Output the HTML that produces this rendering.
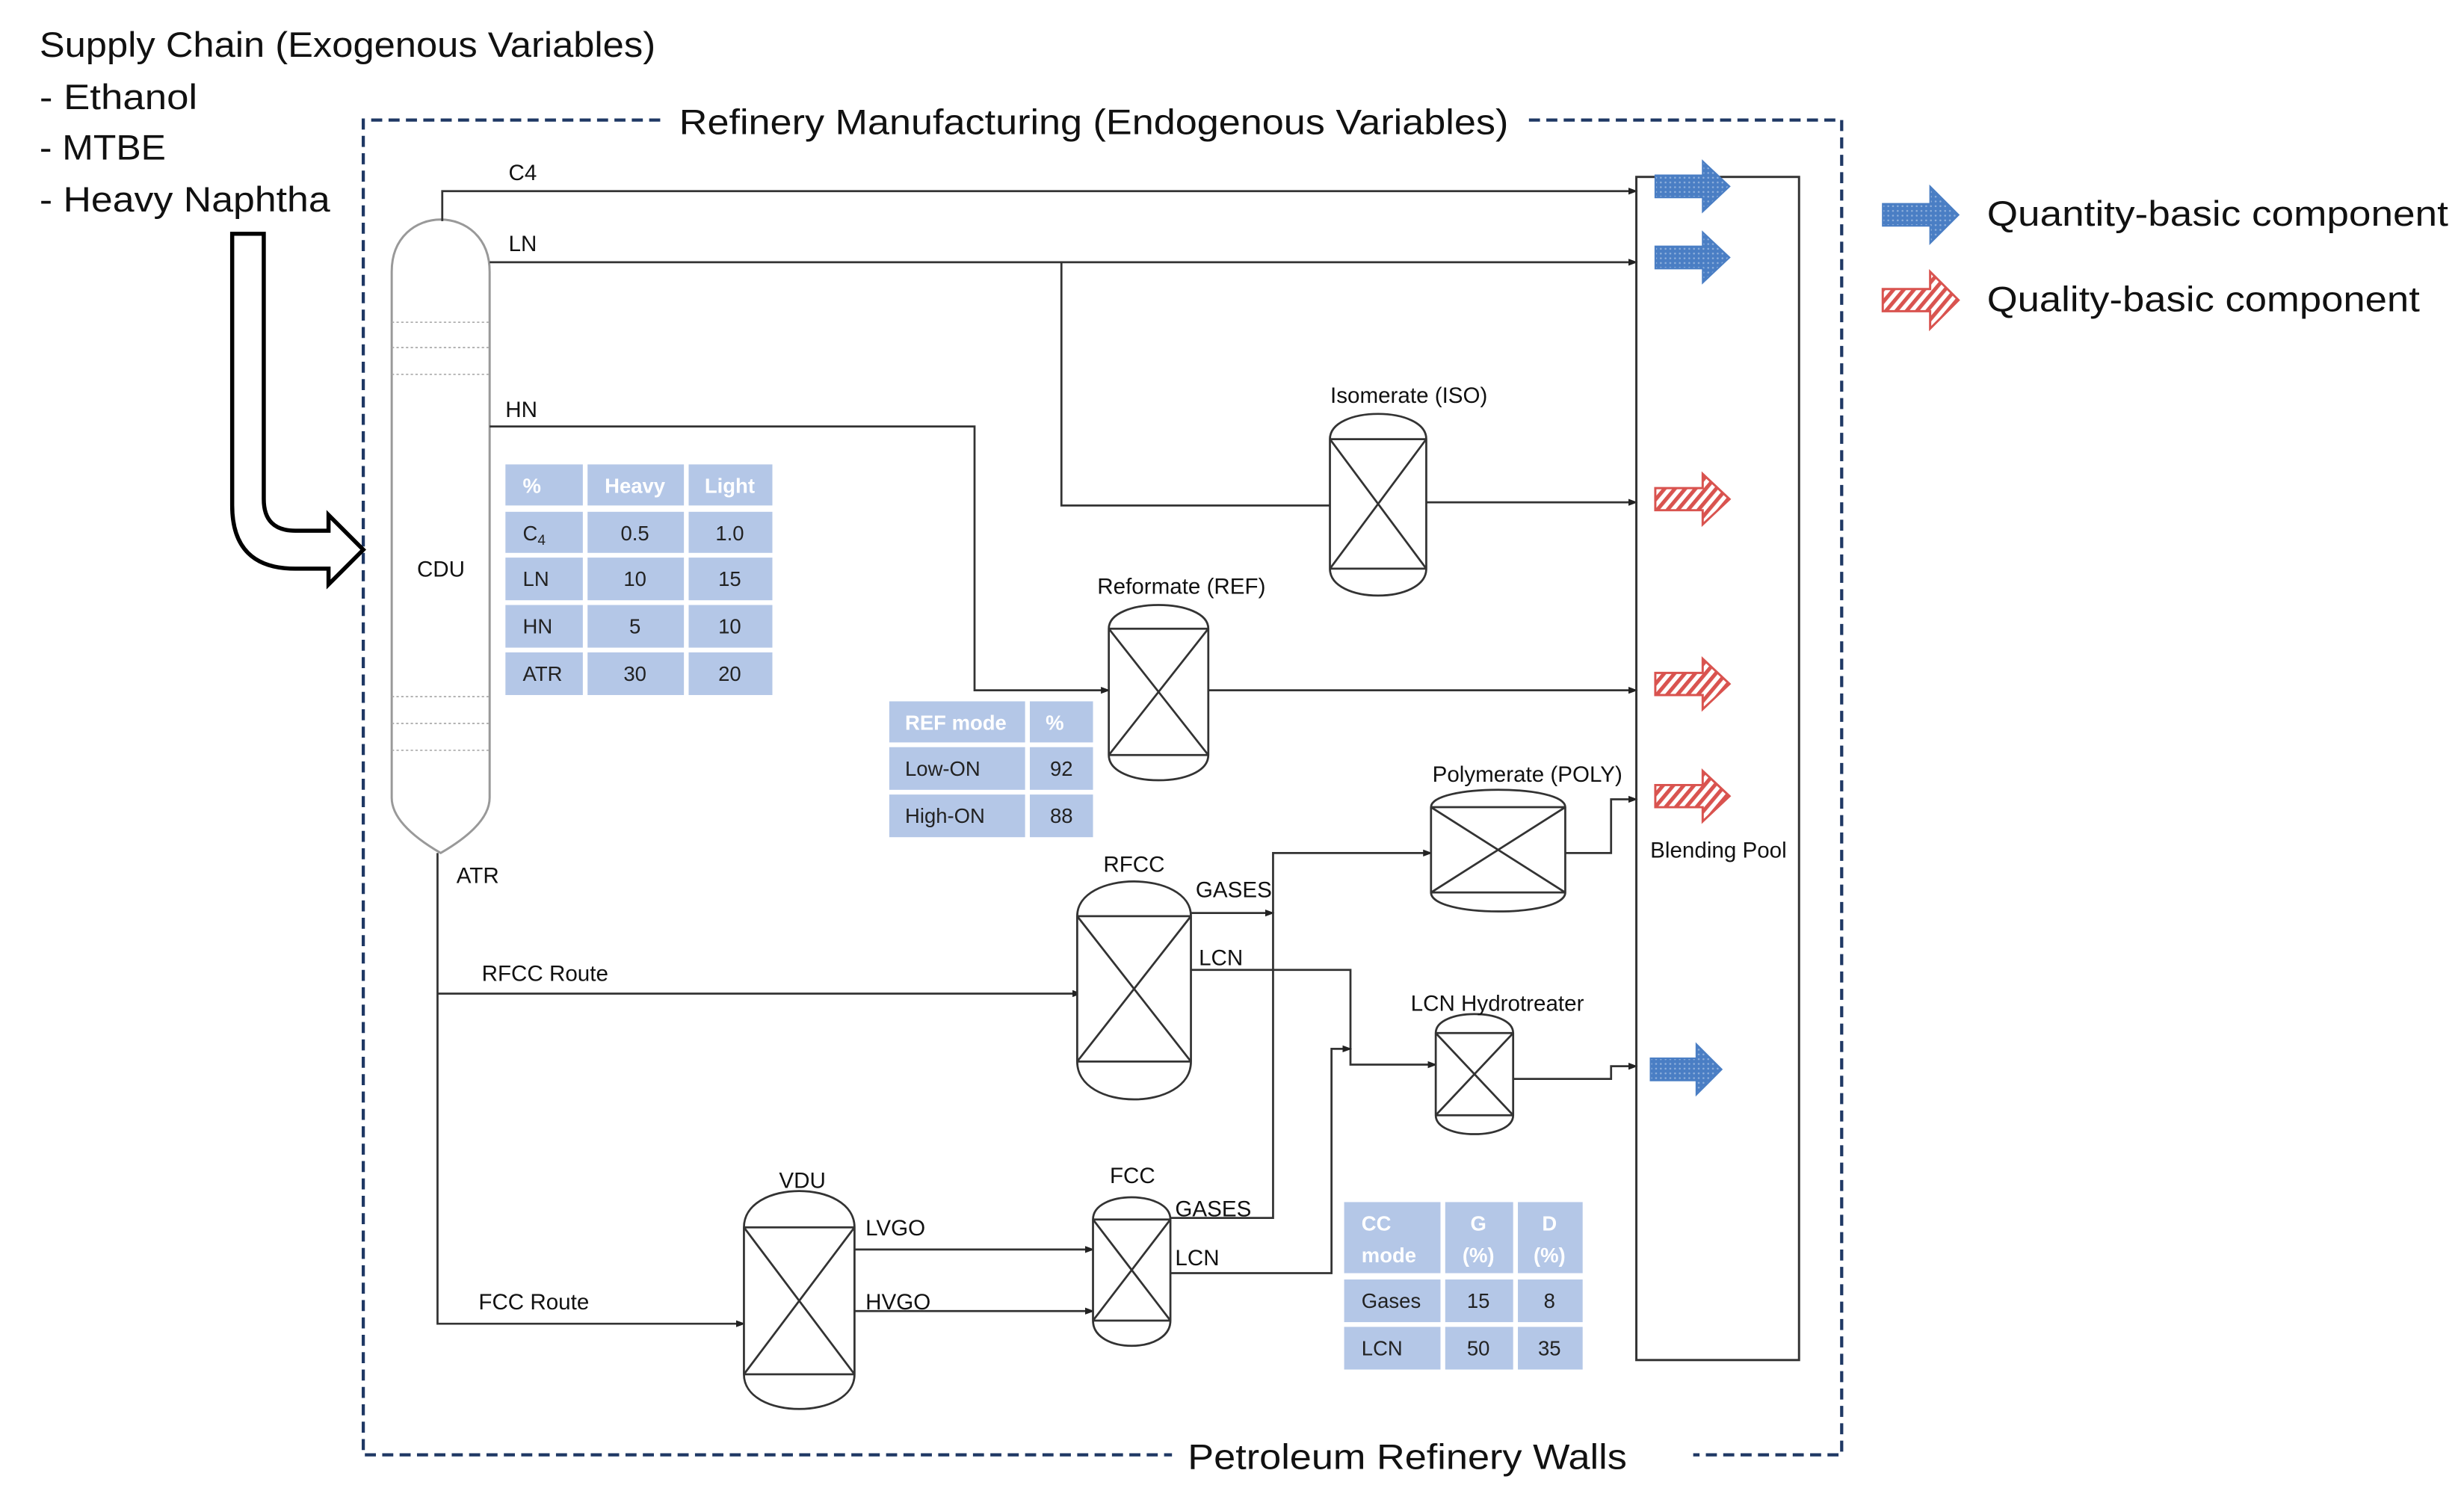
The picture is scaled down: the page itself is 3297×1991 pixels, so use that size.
<!DOCTYPE html>
<html><head><meta charset="utf-8"><style>
html,body{margin:0;padding:0;background:#fff;}
svg{display:block;}
text{font-family:"Liberation Sans",sans-serif;}
</style></head><body>
<svg width="3297" height="1991" viewBox="0 0 1560 942" preserveAspectRatio="none" xmlns="http://www.w3.org/2000/svg">
<defs>
<marker id="ah" markerWidth="6" markerHeight="6" refX="5" refY="3" orient="auto" markerUnits="userSpaceOnUse"><path d="M0,0.8 L6,3 L0,5.2 Z" fill="#222"/></marker>
<pattern id="hatch" width="5" height="5" patternUnits="userSpaceOnUse" patternTransform="rotate(40)"><rect width="5" height="5" fill="#fff"/><rect width="2.4" height="5" fill="#d9534f"/></pattern>
<pattern id="dots" width="3" height="3" patternUnits="userSpaceOnUse"><rect width="3" height="3" fill="#4a7ec4"/><circle cx="1.5" cy="1.5" r="0.6" fill="#8fb0dc"/></pattern>
</defs>
<g fill="#111">
<text x="25" y="36" font-size="22.5" textLength="390" lengthAdjust="spacingAndGlyphs">Supply Chain (Exogenous Variables)</text>
<text x="25" y="69" font-size="22.5" textLength="100" lengthAdjust="spacingAndGlyphs">- Ethanol</text>
<text x="25" y="101" font-size="22.5" textLength="80" lengthAdjust="spacingAndGlyphs">- MTBE</text>
<text x="25" y="134" font-size="22.5" textLength="184" lengthAdjust="spacingAndGlyphs">- Heavy Naphtha</text>
<text x="430" y="85" font-size="22.5" textLength="525" lengthAdjust="spacingAndGlyphs">Refinery Manufacturing (Endogenous Variables)</text>
<text x="752" y="930" font-size="22.5" textLength="278" lengthAdjust="spacingAndGlyphs">Petroleum Refinery Walls</text>
<text x="1258" y="143" font-size="22.5" textLength="292" lengthAdjust="spacingAndGlyphs">Quantity-basic component</text>
<text x="1258" y="197" font-size="22.5" textLength="274" lengthAdjust="spacingAndGlyphs">Quality-basic component</text>
</g>
<!-- dashed wall -->
<g stroke="#1f3864" stroke-width="2" stroke-dasharray="7,4" fill="none">
<path d="M418,76 L230,76 L230,921 L742,921"/>
<path d="M968,76 L1166,76 L1166,921 L1072,921"/>
</g>
<!-- big hollow arrow -->
<path d="M147,148 L167,148 L167,316 Q167,336 187,336 L208,336 L208,326 L230,348 L208,370 L208,360 L187,360 Q147,360 147,320 Z" fill="#fff" stroke="#000" stroke-width="2.6"/>
<!-- CDU -->
<path d="M248,172 C248,128 310,128 310,172 L310,505 Q310,522 279,540 Q248,522 248,505 Z" fill="#fff" stroke="#999" stroke-width="1.4"/>
<g stroke="#aaa" stroke-width="0.8" stroke-dasharray="1.5,1.5">
<line x1="248" y1="204" x2="310" y2="204"/><line x1="248" y1="220" x2="310" y2="220"/><line x1="248" y1="237" x2="310" y2="237"/>
<line x1="248" y1="441" x2="310" y2="441"/><line x1="248" y1="458" x2="310" y2="458"/><line x1="248" y1="475" x2="310" y2="475"/>
</g>
<!-- lines -->
<g stroke="#333" stroke-width="1.3" fill="none">
<path d="M280,140 L280,121 L1036,121" marker-end="url(#ah)"/>
<path d="M310,166 L1036,166" marker-end="url(#ah)"/>
<path d="M672,166 L672,320 L872,320 M903,318 L1036,318" />
<path d="M1030,318 L1036,318" marker-end="url(#ah)"/>
<path d="M310,270 L617,270 L617,437 L702,437" marker-end="url(#ah)"/>
<path d="M765,437 L1036,437" marker-end="url(#ah)"/>
<path d="M277,540 L277,838 L471,838" marker-end="url(#ah)"/>
<path d="M277,629 L684,629" marker-end="url(#ah)"/>
<path d="M754,578 L806,578" marker-end="url(#ah)"/>
<path d="M741,771 L806,771 L806,540 L906,540" marker-end="url(#ah)"/>
<path d="M754,614 L855,614 L855,674 L909,674" marker-end="url(#ah)"/>
<path d="M741,806 L843,806 L843,664 L855,664" marker-end="url(#ah)"/>
<path d="M991,540 L1020,540 L1020,506 L1036,506" marker-end="url(#ah)"/>
<path d="M958,683 L1020,683 L1020,675 L1036,675" marker-end="url(#ah)"/>
<path d="M541,791 L692,791" marker-end="url(#ah)"/>
<path d="M541,830 L692,830" marker-end="url(#ah)"/>
</g>
<!-- blending pool -->
<rect x="1036" y="112" width="103" height="749" fill="none" stroke="#333" stroke-width="1.4"/>
<!-- vessels -->
<g stroke="#333" stroke-width="1.3" fill="#fff">
<path d="M842,278 C842,256.7 903,256.7 903,278 L903,360 C903,382.7 842,382.7 842,360 Z"/>
<path d="M842,278 H903 M842,360 H903 M842,278 L903,360 M903,278 L842,360" fill="none"/>
<path d="M702,398 C702,378 765,378 765,398 L765,478 C765,499.3 702,499.3 702,478 Z"/>
<path d="M702,398 H765 M702,478 H765 M702,398 L765,478 M765,398 L702,478" fill="none"/>
<path d="M682,580 C682,550.7 754,550.7 754,580 L754,672 C754,704 682,704 682,672 Z"/>
<path d="M682,580 H754 M682,672 H754 M682,580 L754,672 M754,580 L682,672" fill="none"/>
<path d="M906,511 C906,496.3 991,496.3 991,511 L991,565 C991,581 906,581 906,565 Z"/>
<path d="M906,511 H991 M906,565 H991 M906,511 L991,565 M991,511 L906,565" fill="none"/>
<path d="M909,654 C909,638 958,638 958,654 L958,706 C958,722 909,722 909,706 Z"/>
<path d="M909,654 H958 M909,706 H958 M909,654 L958,706 M958,654 L909,706" fill="none"/>
<path d="M471,777 C471,746.3 541,746.3 541,777 L541,870 C541,899.3 471,899.3 471,870 Z"/>
<path d="M471,777 H541 M471,870 H541 M471,777 L541,870 M541,777 L471,870" fill="none"/>
<path d="M692,772 C692,753.3 741,753.3 741,772 L741,836 C741,857.3 692,857.3 692,836 Z"/>
<path d="M692,772 H741 M692,836 H741 M692,772 L741,836 M741,772 L692,836" fill="none"/>
</g>
<!-- labels -->
<g fill="#111" font-size="14">
<text x="322" y="114">C4</text>
<text x="322" y="159">LN</text>
<text x="320" y="264">HN</text>
<text x="264" y="365">CDU</text>
<text x="289" y="559">ATR</text>
<text x="305" y="621">RFCC Route</text>
<text x="303" y="829">FCC Route</text>
<text x="892" y="255" text-anchor="middle">Isomerate (ISO)</text>
<text x="748" y="376" text-anchor="middle">Reformate (REF)</text>
<text x="967" y="495" text-anchor="middle">Polymerate (POLY)</text>
<text x="718" y="552" text-anchor="middle">RFCC</text>
<text x="757" y="568">GASES</text>
<text x="759" y="611">LCN</text>
<text x="948" y="640" text-anchor="middle">LCN Hydrotreater</text>
<text x="508" y="752" text-anchor="middle">VDU</text>
<text x="717" y="749" text-anchor="middle">FCC</text>
<text x="744" y="770">GASES</text>
<text x="744" y="801">LCN</text>
<text x="548" y="782">LVGO</text>
<text x="548" y="829">HVGO</text>
<text x="1088" y="543" text-anchor="middle">Blending Pool</text>
</g>
<!-- tables -->
<g fill="#b4c7e7">
<rect x="320" y="294" width="49" height="26"/><rect x="372" y="294" width="61" height="26"/><rect x="436" y="294" width="53" height="26"/>
<rect x="320" y="324" width="49" height="26"/><rect x="372" y="324" width="61" height="26"/><rect x="436" y="324" width="53" height="26"/>
<rect x="320" y="353" width="49" height="27"/><rect x="372" y="353" width="61" height="27"/><rect x="436" y="353" width="53" height="27"/>
<rect x="320" y="383" width="49" height="27"/><rect x="372" y="383" width="61" height="27"/><rect x="436" y="383" width="53" height="27"/>
<rect x="320" y="413" width="49" height="27"/><rect x="372" y="413" width="61" height="27"/><rect x="436" y="413" width="53" height="27"/>
<rect x="563" y="444" width="86" height="26"/><rect x="652" y="444" width="40" height="26"/>
<rect x="563" y="473" width="86" height="27"/><rect x="652" y="473" width="40" height="27"/>
<rect x="563" y="503" width="86" height="27"/><rect x="652" y="503" width="40" height="27"/>
<rect x="851" y="761" width="61" height="45"/><rect x="915" y="761" width="43" height="45"/><rect x="961" y="761" width="41" height="45"/>
<rect x="851" y="810" width="61" height="27"/><rect x="915" y="810" width="43" height="27"/><rect x="961" y="810" width="41" height="27"/>
<rect x="851" y="840" width="61" height="27"/><rect x="915" y="840" width="43" height="27"/><rect x="961" y="840" width="41" height="27"/>
</g>
<g font-size="13" fill="#fff" font-weight="bold">
<text x="331" y="312">%</text><text x="402" y="312" text-anchor="middle">Heavy</text><text x="462" y="312" text-anchor="middle">Light</text>
<text x="573" y="462">REF mode</text><text x="662" y="462">%</text>
<text x="862" y="779">CC</text><text x="862" y="799">mode</text>
<text x="936" y="779" text-anchor="middle">G</text><text x="936" y="799" text-anchor="middle">(%)</text>
<text x="981" y="779" text-anchor="middle">D</text><text x="981" y="799" text-anchor="middle">(%)</text>
</g>
<g font-size="13" fill="#222">
<text x="331" y="342">C<tspan font-size="9" dy="3">4</tspan></text><text x="402" y="342" text-anchor="middle">0.5</text><text x="462" y="342" text-anchor="middle">1.0</text>
<text x="331" y="371">LN</text><text x="402" y="371" text-anchor="middle">10</text><text x="462" y="371" text-anchor="middle">15</text>
<text x="331" y="401">HN</text><text x="402" y="401" text-anchor="middle">5</text><text x="462" y="401" text-anchor="middle">10</text>
<text x="331" y="431">ATR</text><text x="402" y="431" text-anchor="middle">30</text><text x="462" y="431" text-anchor="middle">20</text>
<text x="573" y="491">Low-ON</text><text x="672" y="491" text-anchor="middle">92</text>
<text x="573" y="521">High-ON</text><text x="672" y="521" text-anchor="middle">88</text>
<text x="862" y="828">Gases</text><text x="936" y="828" text-anchor="middle">15</text><text x="981" y="828" text-anchor="middle">8</text>
<text x="862" y="858">LCN</text><text x="936" y="858" text-anchor="middle">50</text><text x="981" y="858" text-anchor="middle">35</text>
</g>
<!-- block arrows -->
<g fill="url(#dots)" stroke="#4a7ec4" stroke-width="1">
<path d="M1048,111 L1078,111 L1078,102 L1095,118 L1078,134 L1078,125 L1048,125 Z"/>
<path d="M1048,156 L1078,156 L1078,147 L1095,163 L1078,179 L1078,170 L1048,170 Z"/>
<path d="M1045,670 L1074,670 L1074,661 L1090,677 L1074,693 L1074,684 L1045,684 Z"/>
<path d="M1192,129 L1222,129 L1222,118 L1240,136 L1222,154 L1222,143 L1192,143 Z"/>
</g>
<g fill="url(#hatch)" stroke="#d9534f" stroke-width="1.4">
<path d="M1048,309 L1078,309 L1078,300 L1095,316 L1078,332 L1078,323 L1048,323 Z"/>
<path d="M1048,426 L1078,426 L1078,417 L1095,433 L1078,449 L1078,440 L1048,440 Z"/>
<path d="M1048,497 L1078,497 L1078,488 L1095,504 L1078,520 L1078,511 L1048,511 Z"/>
<path d="M1192,183 L1222,183 L1222,172 L1240,190 L1222,208 L1222,197 L1192,197 Z"/>
</g>
</svg>
</body></html>
